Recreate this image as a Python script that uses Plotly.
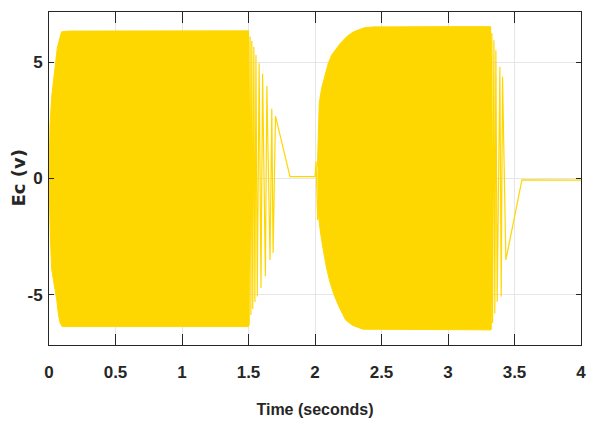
import plotly.graph_objects as go

# ---- data ----
# Dense oscillation envelopes (seconds, volts)
seg1_t_up = [0.0, 0.008, 0.02, 0.035, 0.047, 0.062, 0.083, 0.095, 0.15, 1.0, 1.50]
seg1_up = [0.0, 2.3, 3.5, 4.2, 4.8, 5.6, 6.07, 6.3, 6.33, 6.34, 6.34]
seg1_t_lo = [0.0, 0.01, 0.02, 0.037, 0.058, 0.07, 0.083, 0.1, 1.0, 1.50]
seg1_lo = [0.0, -2.5, -3.9, -4.5, -5.2, -5.8, -6.2, -6.36, -6.36, -6.36]

seg2_t_up = [2.018, 2.025, 2.032, 2.05, 2.075, 2.1, 2.125, 2.19, 2.24, 2.29, 2.37, 2.44, 3.0, 3.32]
seg2_up = [0.5, 2.4, 3.23, 3.88, 4.44, 4.95, 5.3, 5.8, 6.1, 6.3, 6.47, 6.51, 6.52, 6.52]
seg2_t_lo = [2.018, 2.022, 2.042, 2.06, 2.085, 2.11, 2.14, 2.18, 2.23, 2.28, 2.36, 2.45, 3.0, 3.32]
seg2_lo = [-0.9, -1.4, -2.35, -3.0, -3.79, -4.4, -4.95, -5.5, -6.07, -6.3, -6.47, -6.5, -6.5, -6.5]

# Sparse oscillation (individual swings) during decays and pauses
sw1_t = [1.50, 1.505, 1.512, 1.518, 1.525, 1.532, 1.54, 1.548, 1.556, 1.566, 1.58,
         1.594, 1.606, 1.627, 1.638, 1.662, 1.675, 1.685, 1.703, 1.812, 2.0, 2.008, 2.02]
sw1_v = [6.34, -6.3, 6.1, -5.86, 5.9, -5.6, 5.66, -5.3, 5.3, -5.07, 4.95,
         -4.7, 4.5, -4.2, 3.97, -3.5, 3.0, -3.2, 2.68, 0.08, 0.08, 0.72, -1.78]

sw2_t = [3.32, 3.325, 3.33, 3.335, 3.345, 3.352, 3.36, 3.37, 3.39, 3.40, 3.41, 3.435, 3.556, 4.0]
sw2_v = [6.5, -6.5, 6.24, -6.2, 5.94, -5.8, 5.51, -5.29, 4.8, -5.07, 4.37, -3.5, -0.06, -0.07]

x_ticks = [0, 0.5, 1, 1.5, 2, 2.5, 3, 3.5, 4]
x_tick_text = ["0", "0.5", "1", "1.5", "2", "2.5", "3", "3.5", "4"]
y_ticks = [-5, 0, 5]
y_tick_text = ["-5", "0", "5"]
x_label = "Time (seconds)"
y_label = "Ec (v)"

# ---- figure ----
YEL = "#FFD700"
fig = go.Figure()

for tu, vu, tl, vl in [(seg1_t_up, seg1_up, seg1_t_lo, seg1_lo),
                       (seg2_t_up, seg2_up, seg2_t_lo, seg2_lo)]:
    fig.add_trace(go.Scatter(
        x=list(tu) + list(tl[::-1]),
        y=list(vu) + list(vl[::-1]),
        fill="toself", fillcolor=YEL, mode="lines",
        line=dict(color=YEL, width=1), hoverinfo="skip", showlegend=False))

for t, v in [(sw1_t, sw1_v), (sw2_t, sw2_v)]:
    fig.add_trace(go.Scatter(x=t, y=v, mode="lines",
                             line=dict(color=YEL, width=1.2), showlegend=False))

tick_font = dict(family="Liberation Sans, Arial", size=17, color="#262626", weight="bold")
xtitle_font = dict(family="Liberation Sans, Arial", size=16, color="#262626", weight="bold")

fig.update_layout(
    width=593, height=426,
    margin=dict(l=49, r=12, t=12, b=81, autoexpand=False),
    paper_bgcolor="white", plot_bgcolor="white",
    showlegend=False,
    xaxis=dict(range=[0, 4], tickvals=x_ticks, ticktext=x_tick_text,
               automargin=False,
               showgrid=True, gridcolor="#E6E6E6", gridwidth=1,
               zeroline=False, showline=True, linecolor="#262626", linewidth=1,
               mirror="ticks", ticks="inside", ticklen=11, tickcolor="#262626",
               tickfont=tick_font, ticklabelstandoff=12,
               title=dict(text=x_label, font=xtitle_font, standoff=22)),
    yaxis=dict(range=[-7.15, 7.15], tickvals=y_ticks, ticktext=y_tick_text,
               automargin=False,
               showgrid=True, gridcolor="#E6E6E6", gridwidth=1,
               zeroline=False, showline=True, linecolor="#262626", linewidth=1,
               mirror="ticks", ticks="inside", ticklen=5, tickcolor="#262626",
               tickfont=tick_font, ticklabelstandoff=2),
    annotations=[dict(text=y_label, textangle=-90, showarrow=False,
                      xref="paper", yref="paper", x=-31 / 532, y=0.5,
                      xanchor="center", yanchor="middle",
                      font=dict(family="DejaVu Sans", size=18, color="#262626",
                                weight="bold"))],
)

fig.write_html("out.html")
